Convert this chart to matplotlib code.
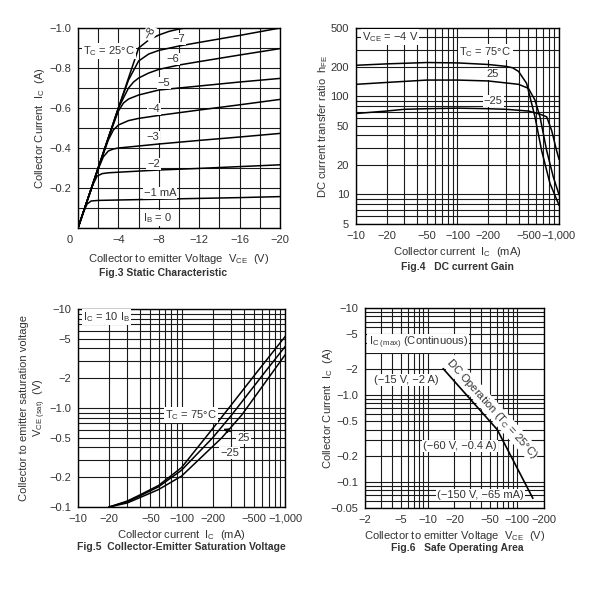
import numpy as np
import matplotlib
matplotlib.use("Agg")
import matplotlib.pyplot as plt
from matplotlib.ticker import NullFormatter

plt.rcParams["font.family"] = ["Liberation Sans", "DejaVu Sans"]
plt.rcParams["mathtext.fontset"] = "custom"
plt.rcParams["mathtext.rm"] = "Liberation Sans"
plt.rcParams["mathtext.it"] = "Liberation Sans:italic"
plt.rcParams["mathtext.bf"] = "Liberation Sans:bold"
plt.rcParams["font.size"] = 8
plt.rcParams["text.color"] = "#333333"
plt.rcParams["xtick.color"] = "#333333"
plt.rcParams["ytick.color"] = "#333333"
plt.rcParams["axes.labelcolor"] = "#333333"

# ---- Fig.3 static characteristic (|VCE| in V, |IC| in A) ----
ib_labels = ["\u22121 mA", "\u22122", "\u22123", "\u22124", "\u22125", "\u22126", "\u22127", "\u22128"]
v_ib1 = [0, 0.5, 0.9, 1.3, 2, 4, 8, 12, 16, 20]
i_ib1 = [0, 0.075, 0.12, 0.135, 0.138, 0.14, 0.144, 0.148, 0.152, 0.157]
v_ib2 = [0, 1, 1.5, 1.9, 2.4, 3, 4, 8, 12, 16, 20]
i_ib2 = [0, 0.15, 0.22, 0.26, 0.272, 0.276, 0.279, 0.29, 0.298, 0.307, 0.316]
v_ib3 = [0, 1, 2, 2.5, 3, 3.5, 4, 6, 8, 12, 16, 20]
i_ib3 = [0, 0.15, 0.295, 0.355, 0.385, 0.395, 0.4, 0.41, 0.42, 0.438, 0.455, 0.473]
v_ib4 = [0, 2, 3, 3.5, 4, 5, 6, 8, 12, 16, 20]
i_ib4 = [0, 0.3, 0.44, 0.49, 0.515, 0.537, 0.548, 0.563, 0.59, 0.616, 0.643]
v_ib5 = [0, 2, 3, 4, 4.5, 5, 6, 8, 12, 16, 20]
i_ib5 = [0, 0.3, 0.45, 0.585, 0.625, 0.645, 0.665, 0.69, 0.71, 0.73, 0.748]
v_ib6 = [0, 2, 4, 5, 5.5, 6, 7, 8, 10, 12, 16, 20]
i_ib6 = [0, 0.3, 0.6, 0.7, 0.73, 0.75, 0.775, 0.793, 0.815, 0.832, 0.865, 0.897]
v_ib7 = [0, 2, 4, 5, 6, 7, 8, 10, 12, 16, 20]
i_ib7 = [0, 0.3, 0.6, 0.74, 0.835, 0.87, 0.888, 0.91, 0.928, 0.963, 1.0]
v_ib8 = [0, 2, 4, 5, 6, 7, 8, 9, 10, 10.6]
i_ib8 = [0, 0.3, 0.6, 0.75, 0.9, 0.94, 0.965, 0.983, 0.995, 1.0]

# ---- Fig.4 DC current gain (|IC| in mA) ----
ic_75 = [10, 20, 50, 100, 200, 300, 350, 400, 480, 580, 675, 815, 1000]
hfe_75 = [208, 215, 222, 220, 212, 203, 196, 180, 136, 62, 28, 13, 7.8]
ic_25 = [10, 20, 50, 100, 200, 400, 500, 580, 650, 757, 881, 1000]
hfe_25 = [133, 139, 147, 147, 144, 133, 121, 92, 62, 28, 15, 10]
ic_m25 = [10, 20, 30, 50, 100, 200, 300, 500, 650, 757, 847, 948, 1000]
hfe_m25 = [67, 71, 74, 75, 76, 75, 74, 71, 66, 62, 45, 28, 23]

# ---- Fig.5 saturation voltage (|IC| mA, |VCE(sat)| V) ----
sat_ic_75 = [20, 30, 40, 60, 100, 170, 254, 540, 1000]
sat_v_75 = [0.1, 0.115, 0.133, 0.165, 0.25, 0.5, 0.85, 2.33, 5.25]
sat_ic_25 = [20, 30, 40, 60, 100, 200, 305, 645, 1000]
sat_v_25 = [0.1, 0.113, 0.13, 0.16, 0.235, 0.5, 0.85, 2.33, 4.16]
sat_ic_m25 = [20, 30, 40, 60, 100, 245, 382, 766, 1000]
sat_v_m25 = [0.1, 0.11, 0.125, 0.15, 0.205, 0.5, 0.85, 2.33, 3.43]

# ---- Fig.6 safe operating area (|VCE| V, |IC| A) ----
soa_v = [15, 60, 150]
soa_i = [2, 0.4, 0.065]

box = dict(facecolor="white", edgecolor="none", pad=0.8)
grid_kw = dict(color="#1a1a1a", linewidth=0.8)


def minor_ticks(lo, hi):
    vals = []
    for e in range(-3, 4):
        for m in range(1, 10):
            v = m * 10.0 ** e
            if lo * 0.999 <= v <= hi * 1.001:
                vals.append(v)
    return vals


def log_axes(ax, xlim, ylim, xt, xtl, yt, ytl):
    ax.set_xscale("log")
    ax.set_yscale("log")
    ax.set_xlim(xlim)
    ax.set_ylim(ylim)
    ax.set_xticks(minor_ticks(*xlim), minor=True)
    ax.set_yticks(minor_ticks(*ylim), minor=True)
    ax.set_xticks(xt, xtl)
    ax.set_yticks(yt, ytl)
    ax.xaxis.set_minor_formatter(NullFormatter())
    ax.yaxis.set_minor_formatter(NullFormatter())
    ax.tick_params(which="both", length=0, pad=5)
    ax.grid(which="both", **grid_kw)
    ax.set_axisbelow(True)


fig = plt.figure(figsize=(6, 6), dpi=100)

# Fig.3
ax3 = fig.add_axes([0.13, 0.62, 0.3367, 0.3333])
curves = [(v_ib1, i_ib1), (v_ib2, i_ib2), (v_ib3, i_ib3), (v_ib4, i_ib4),
          (v_ib5, i_ib5), (v_ib6, i_ib6), (v_ib7, i_ib7), (v_ib8, i_ib8)]
for v, i in curves:
    ax3.plot(-np.array(v), -np.array(i), color="black", lw=1.1)
ax3.set_xlim(0, -20)
ax3.set_ylim(0, -1.0)
ax3.set_xticks(np.arange(0, -21, -2), minor=True)
ax3.set_yticks(np.arange(0, -1.01, -0.1), minor=True)
ax3.set_xticks([0, -4, -8, -12, -16, -20], ["", "\u22124", "\u22128", "\u221212", "\u221216", "\u221220"])
ax3.set_yticks([-0.2, -0.4, -0.6, -0.8, -1.0], ["\u22120.2", "\u22120.4", "\u22120.6", "\u22120.8", "\u22121.0"])
ax3.tick_params(which="both", length=0, pad=5)
ax3.grid(which="both", **grid_kw)
ax3.set_axisbelow(True)
ax3.text(-0.04, -0.06, "0", transform=ax3.transAxes, ha="center", va="center")
ax3.set_xlabel("Collector to emitter Voltage  V$_\\mathrm{CE}$  (V)", labelpad=5)
ax3.set_ylabel("Collector Current  I$_\\mathrm{C}$  (A)")
ax3.yaxis.set_label_coords(-0.155, 0.5)
ib_pos = [(0.406, 0.175), (0.376, 0.32), (0.371, 0.455), (0.376, 0.595),
          (0.426, 0.725), (0.470, 0.845), (0.500, 0.945), (0.356, 0.975)]
for lab, (fx, fy) in zip(ib_labels, ib_pos):
    rot = 60 if lab == "\u22128" else 0
    ax3.text(fx, fy, lab, transform=ax3.transAxes, ha="center", va="center", rotation=rot, bbox=box)
ax3.text(0.396, 0.05, "I$_\\mathrm{B}$ = 0", transform=ax3.transAxes, ha="center", va="center", bbox=box)
ax3.text(0.153, 0.885, "T$_\\mathrm{C}$ = 25\u00b0C", transform=ax3.transAxes, ha="center", va="center", bbox=box)

# Fig.4
ax4 = fig.add_axes([0.5933, 0.6267, 0.3383, 0.3267])
ax4.plot(ic_75, hfe_75, color="black", lw=1.1)
ax4.plot(ic_25, hfe_25, color="black", lw=1.1)
ax4.plot(ic_m25, hfe_m25, color="black", lw=1.1)
log_axes(ax4, (10, 1000), (5, 500),
         [10, 20, 50, 100, 200, 500, 1000],
         ["\u221210", "\u221220", "\u221250", "\u2212100", "\u2212200", "\u2212500", "\u22121,000"],
         [5, 10, 20, 50, 100, 200, 500], ["5", "10", "20", "50", "100", "200", "500"])
ax4.set_xlabel("Collector current  I$_\\mathrm{C}$  (mA)", labelpad=3)
ax4.set_ylabel("DC current transfer ratio  h$_\\mathrm{FE}$")
ax4.yaxis.set_label_coords(-0.127, 0.5)
ax4.text(0.167, 0.953, "V$_\\mathrm{CE}$ = \u22124 V", transform=ax4.transAxes, ha="center", va="center", bbox=box)
ax4.text(0.638, 0.875, "T$_\\mathrm{C}$ = 75\u00b0C", transform=ax4.transAxes, ha="center", va="center", bbox=box)
ax4.text(0.672, 0.766, "25", transform=ax4.transAxes, ha="center", va="center", bbox=box)
ax4.text(0.676, 0.626, "\u221225", transform=ax4.transAxes, ha="center", va="center", bbox=box)

# Fig.5
ax5 = fig.add_axes([0.13, 0.155, 0.345, 0.33])
ax5.plot(sat_ic_75, sat_v_75, color="black", lw=1.1)
ax5.plot(sat_ic_25, sat_v_25, color="black", lw=1.1)
ax5.plot(sat_ic_m25, sat_v_m25, color="black", lw=1.1)
log_axes(ax5, (10, 1000), (0.1, 10),
         [10, 20, 50, 100, 200, 500, 1000],
         ["\u221210", "\u221220", "\u221250", "\u2212100", "\u2212200", "\u2212500", "\u22121,000"],
         [0.1, 0.2, 0.5, 1.0, 2, 5, 10],
         ["\u22120.1", "\u22120.2", "\u22120.5", "\u22121.0", "\u22122", "\u22125", "\u221210"])
ax5.set_xlabel("Collector current  I$_\\mathrm{C}$  (mA)", labelpad=3)
ax5.set_ylabel("Collector to emitter saturation voltage\nV$_\\mathrm{CE\\ (sat)}$  (V)")
ax5.yaxis.set_label_coords(-0.145, 0.5)
ax5.text(0.139, 0.958, "I$_\\mathrm{C}$ = 10 I$_\\mathrm{B}$", transform=ax5.transAxes, ha="center", va="center", bbox=box)
ax5.text(0.544, 0.465, "T$_\\mathrm{C}$ = 75\u00b0C", transform=ax5.transAxes, ha="center", va="center", bbox=box)
ax5.text(0.80, 0.347, "25", transform=ax5.transAxes, ha="center", va="center", bbox=box)
ax5.text(0.734, 0.274, "\u221225", transform=ax5.transAxes, ha="center", va="center", bbox=box)
ax5.annotate("", xy=(0.69, 0.40), xytext=(0.75, 0.375), xycoords="axes fraction",
             arrowprops=dict(arrowstyle="-|>", color="black", lw=0.8, mutation_scale=7))

# Fig.6
ax6 = fig.add_axes([0.6083, 0.1533, 0.2983, 0.3333])
ax6.plot(soa_v, soa_i, color="black", lw=1.2)
log_axes(ax6, (2, 200), (0.05, 10),
         [2, 5, 10, 20, 50, 100, 200],
         ["\u22122", "\u22125", "\u221210", "\u221220", "\u221250", "\u2212100", "\u2212200"],
         [0.05, 0.1, 0.2, 0.5, 1.0, 2, 5, 10],
         ["\u22120.05", "\u22120.1", "\u22120.2", "\u22120.5", "\u22121.0", "\u22122", "\u22125", "\u221210"])
ax6.set_xlabel("Collector to emitter Voltage  V$_\\mathrm{CE}$  (V)", labelpad=3)
ax6.set_ylabel("Collector Current  I$_\\mathrm{C}$  (A)")
ax6.yaxis.set_label_coords(-0.17, 0.5)
ax6.text(0.02, 0.824, "I$_\\mathrm{C\\ (max)}$ (Continuous)", transform=ax6.transAxes, ha="left", va="center", bbox=box)
ax6.text(0.229, 0.64, "(\u221215 V, \u22122 A)", transform=ax6.transAxes, ha="center", va="center", bbox=box)
ax6.text(0.708, 0.499, "DC Operation (T$_\\mathrm{C}$ = 25\u00b0C)", transform=ax6.transAxes,
         ha="center", va="center", rotation=-48, bbox=box)
ax6.text(0.531, 0.31, "(\u221260 V, \u22120.4 A)", transform=ax6.transAxes, ha="center", va="center", bbox=box)
ax6.text(0.646, 0.065, "(\u2212150 V, \u221265 mA)", transform=ax6.transAxes, ha="center", va="center", bbox=box)

for ax in (ax3, ax4, ax5, ax6):
    for s in ax.spines.values():
        s.set_linewidth(1.0)

fig.text(0.272, 0.545, "Fig.3 Static Characteristic", ha="center", va="center", fontsize=7.5, weight="bold")
fig.text(0.762, 0.555, "Fig.4   DC current Gain", ha="center", va="center", fontsize=7.5, weight="bold")
fig.text(0.303, 0.088, "Fig.5  Collector-Emitter Saturation Voltage", ha="center", va="center", fontsize=7.5, weight="bold")
fig.text(0.763, 0.087, "Fig.6   Safe Operating Area", ha="center", va="center", fontsize=7.5, weight="bold")

fig.savefig("out.png", dpi=100, facecolor="white")
